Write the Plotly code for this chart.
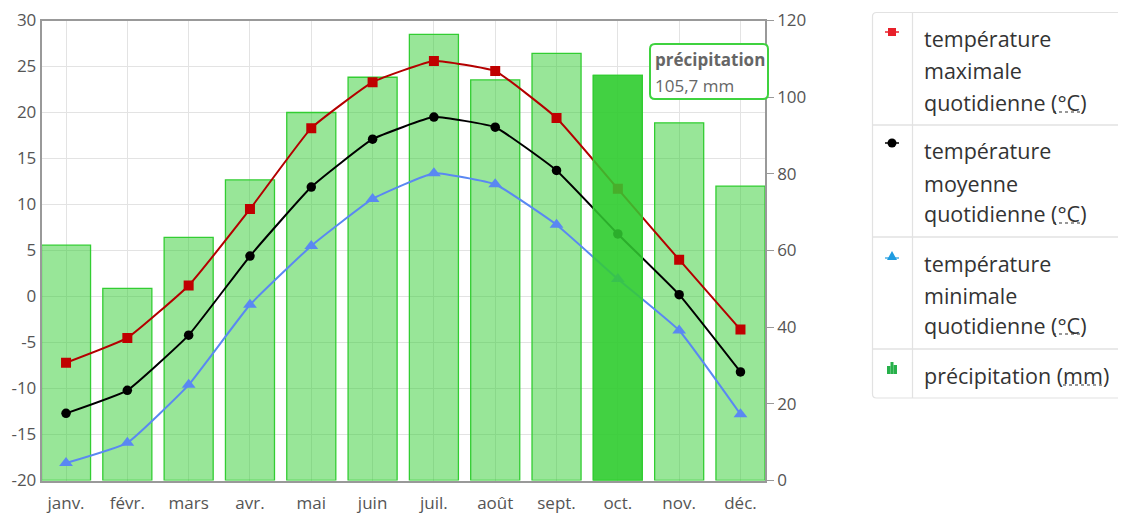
import plotly.graph_objects as go

# ---------------- data ----------------
months = ["janv.", "févr.", "mars", "avr.", "mai", "juin", "juil.", "août", "sept.", "oct.", "nov.", "déc."]
tmax = [-7.2, -4.5, 1.2, 9.5, 18.3, 23.3, 25.6, 24.5, 19.4, 11.7, 4.0, -3.6]
tmoy = [-12.7, -10.2, -4.2, 4.4, 11.9, 17.1, 19.5, 18.4, 13.7, 6.8, 0.2, -8.2]
tmin = [-18.1, -15.9, -9.6, -0.9, 5.5, 10.6, 13.4, 12.2, 7.8, 1.9, -3.7, -12.8]
precip = [61.4, 50.1, 63.4, 78.4, 96.0, 105.2, 116.4, 104.5, 111.4, 105.7, 93.3, 76.8]
highlight_index = 9

temp_ticks = [-20, -15, -10, -5, 0, 5, 10, 15, 20, 25, 30]
temp_tick_labels = ["-20", "-15", "-10", "-5", "0", "5", "10", "15", "20", "25", "30"]
precip_ticks = [0, 20, 40, 60, 80, 100, 120]
precip_tick_labels = ["0", "20", "40", "60", "80", "100", "120"]

legend_rows = [
    ["température", "maximale", "quotidienne (°C)"],
    ["température", "moyenne", "quotidienne (°C)"],
    ["température", "minimale", "quotidienne (°C)"],
    ["précipitation (mm)"],
]

# ---------------- helpers (window pixel -> paper) ----------------
OFF = 8  # page body margin
W, H = 1126 - OFF, 514 - OFF
def px(x):
    return (x - OFF) / W
def py(y):
    return 1 - (y - OFF) / H

FONT = "Open Sans"
GREEN = "rgb(50,205,50)"

fig = go.Figure()

# bars (base subplot, right axis)
fig.add_trace(go.Bar(
    x=months, y=precip, yaxis="y", xaxis="x",
    marker=dict(color="rgba(50,205,50,0.5)", line=dict(color=GREEN, width=1.3)),
    width=0.8, showlegend=False, hoverinfo="skip",
))

# temperature lines (overlay, left axis)
fig.add_trace(go.Scatter(
    x=months, y=tmax, yaxis="y2", mode="lines+markers",
    line=dict(color="#b40000", width=2, shape="spline", smoothing=0.35),
    marker=dict(symbol="square", size=10, color="#c00000"),
    showlegend=False, hoverinfo="skip",
))
fig.add_trace(go.Scatter(
    x=months, y=tmoy, yaxis="y2", mode="lines+markers",
    line=dict(color="#000000", width=2, shape="spline", smoothing=0.35),
    marker=dict(symbol="circle", size=9.5, color="#000000"),
    showlegend=False, hoverinfo="skip",
))
fig.add_trace(go.Scatter(
    x=months, y=tmin, yaxis="y2", mode="lines+markers",
    line=dict(color="#5a88f2", width=2, shape="spline", smoothing=0.35),
    marker=dict(symbol="triangle-up", size=12, color="#5a88f2"),
    showlegend=False, hoverinfo="skip",
))

# highlighted bar on top (overlay)
fig.add_trace(go.Bar(
    x=[months[highlight_index]], y=[precip[highlight_index]], yaxis="y3",
    marker=dict(color="rgba(50,205,50,0.85)", line=dict(color=GREEN, width=1.3)),
    width=0.8, showlegend=False, hoverinfo="skip",
))

axis_line = "#999999"
grid = "#e3e3e3"
tick_font = dict(family=FONT, size=17, color="#555555")

fig.update_layout(
    width=W, height=H,
    margin=dict(l=0, r=0, t=0, b=0),
    paper_bgcolor="white", plot_bgcolor="white",
    barmode="overlay",
    showlegend=False,
    xaxis=dict(
        domain=[px(41.5), px(765)], type="category", range=[-0.4, 11.4],
        showgrid=True, gridcolor=grid, gridwidth=1,
        showline=True, linecolor=axis_line, linewidth=1.5, mirror=True,
        ticks="outside", ticklen=6, tickcolor="rgba(0,0,0,0)",
        tickfont=tick_font, fixedrange=True, automargin=False,
    ),
    yaxis=dict(
        domain=[py(480.5), py(20.5)], side="right", range=[0, 120],
        tickmode="array", tickvals=precip_ticks, ticktext=precip_tick_labels,
        showgrid=False, zeroline=False,
        showline=True, linecolor=axis_line, linewidth=1.5,
        ticks="outside", ticklen=7, tickcolor=axis_line,
        tickfont=tick_font, automargin=False,
    ),
    yaxis2=dict(
        overlaying="y", side="left", range=[-20, 30],
        tickmode="array", tickvals=temp_ticks, ticktext=temp_tick_labels,
        showgrid=True, gridcolor=grid, zeroline=False,
        showline=True, linecolor=axis_line, linewidth=1.5,
        ticks="", tickfont=tick_font, automargin=False,
    ),
    yaxis3=dict(overlaying="y", range=[0, 120], visible=False),
)

shapes = []
annotations = []

def rounded_rect(x0, y0, x1, y1, r):
    pts = []
    pts.append(f"M {px(x0 + r)} {py(y0)}")
    pts.append(f"L {px(x1 - r)} {py(y0)}")
    pts.append(f"Q {px(x1)} {py(y0)} {px(x1)} {py(y0 + r)}")
    pts.append(f"L {px(x1)} {py(y1 - r)}")
    pts.append(f"Q {px(x1)} {py(y1)} {px(x1 - r)} {py(y1)}")
    pts.append(f"L {px(x0 + r)} {py(y1)}")
    pts.append(f"Q {px(x0)} {py(y1)} {px(x0)} {py(y1 - r)}")
    pts.append(f"L {px(x0)} {py(y0 + r)}")
    pts.append(f"Q {px(x0)} {py(y0)} {px(x0 + r)} {py(y0)}")
    pts.append("Z")
    return " ".join(pts)

# ---------------- legend table ----------------
lg_left, lg_right, lg_top, lg_bot = 872.5, 1150, 12.5, 398
div_x = 912.5
sep_ys = [125, 237, 349]
border = "#e2e2e2"
shapes.append(dict(type="path", xref="paper", yref="paper",
                   path=rounded_rect(lg_left, lg_top, lg_right, lg_bot, 4),
                   line=dict(color=border, width=1.2), fillcolor="white", layer="below"))
shapes.append(dict(type="line", xref="paper", yref="paper",
                   x0=px(div_x), x1=px(div_x), y0=py(lg_bot), y1=py(lg_top),
                   line=dict(color=border, width=1.2)))
for sy in sep_ys:
    shapes.append(dict(type="line", xref="paper", yref="paper",
                       x0=px(lg_left), x1=px(lg_right), y0=py(sy), y1=py(sy),
                       line=dict(color=border, width=1.5)))

# legend icons
ix = 892
shapes.append(dict(type="line", xref="paper", yref="paper",
                   x0=px(ix - 7), x1=px(ix + 7), y0=py(32), y1=py(32),
                   line=dict(color="#e8202a", width=1.5)))
shapes.append(dict(type="rect", xref="paper", yref="paper",
                   x0=px(ix - 4), x1=px(ix + 4), y0=py(36), y1=py(28),
                   line=dict(width=0), fillcolor="#e8202a"))
shapes.append(dict(type="line", xref="paper", yref="paper",
                   x0=px(ix - 7), x1=px(ix + 7), y0=py(143), y1=py(143),
                   line=dict(color="#000", width=1.5)))
shapes.append(dict(type="circle", xref="paper", yref="paper",
                   x0=px(ix - 4.5), x1=px(ix + 4.5), y0=py(147.5), y1=py(138.5),
                   line=dict(width=0), fillcolor="#000"))
shapes.append(dict(type="line", xref="paper", yref="paper",
                   x0=px(ix - 7), x1=px(ix + 7), y0=py(258), y1=py(258),
                   line=dict(color="#1e9be0", width=1.2)))
shapes.append(dict(type="path", xref="paper", yref="paper",
                   path=f"M {px(ix-5)} {py(260)} L {px(ix+5)} {py(260)} L {px(ix)} {py(251)} Z",
                   line=dict(width=0), fillcolor="#1e9be0"))
for (x0, x1, top) in [(ix - 5, ix - 1.5, 366), (ix - 1.5, ix + 1.5, 362), (ix + 1.5, ix + 5, 365)]:
    shapes.append(dict(type="rect", xref="paper", yref="paper",
                       x0=px(x0), x1=px(x1), y0=py(374), y1=py(top),
                       line=dict(width=0), fillcolor="#27b04a"))

# legend text
text_x = 922
row_line_ys = [[39, 71, 102], [151, 183, 213], [263, 295, 325], [375]]
for row, ys in zip(legend_rows, row_line_ys):
    for txt, yy in zip(row, ys):
        annotations.append(dict(xref="paper", yref="paper", x=px(text_x), y=py(yy),
                                xanchor="left", yanchor="middle", showarrow=False,
                                text=txt, font=dict(family=FONT, size=21.5, color="#333333")))

# dotted underline of abbreviations
for uy in [112, 223, 334]:
    shapes.append(dict(type="line", xref="paper", yref="paper",
                       x0=px(1053), x1=px(1084), y0=py(uy), y1=py(uy),
                       line=dict(color="#333", width=1.2, dash="dot")))
shapes.append(dict(type="line", xref="paper", yref="paper",
                   x0=px(1063), x1=px(1103), y0=py(385), y1=py(385),
                   line=dict(color="#333", width=1.2, dash="dot")))

# ---------------- tooltip ----------------
val_txt = f"{precip[highlight_index]:.1f}".replace(".", ",") + " mm"
shapes.append(dict(type="path", xref="paper", yref="paper",
                   path=rounded_rect(650, 44, 768, 99, 5),
                   line=dict(color="#3fd23f", width=2), fillcolor="white"))
annotations.append(dict(xref="paper", yref="paper", x=px(653), y=py(60),
                        xanchor="left", yanchor="middle", showarrow=False,
                        text="<b>précipitation</b>",
                        font=dict(family=FONT, size=17, color="#666666")))
annotations.append(dict(xref="paper", yref="paper", x=px(653), y=py(85),
                        xanchor="left", yanchor="middle", showarrow=False,
                        text=val_txt,
                        font=dict(family=FONT, size=17, color="#666666")))

fig.update_layout(shapes=shapes, annotations=annotations)

fig.write_html("out.html")
